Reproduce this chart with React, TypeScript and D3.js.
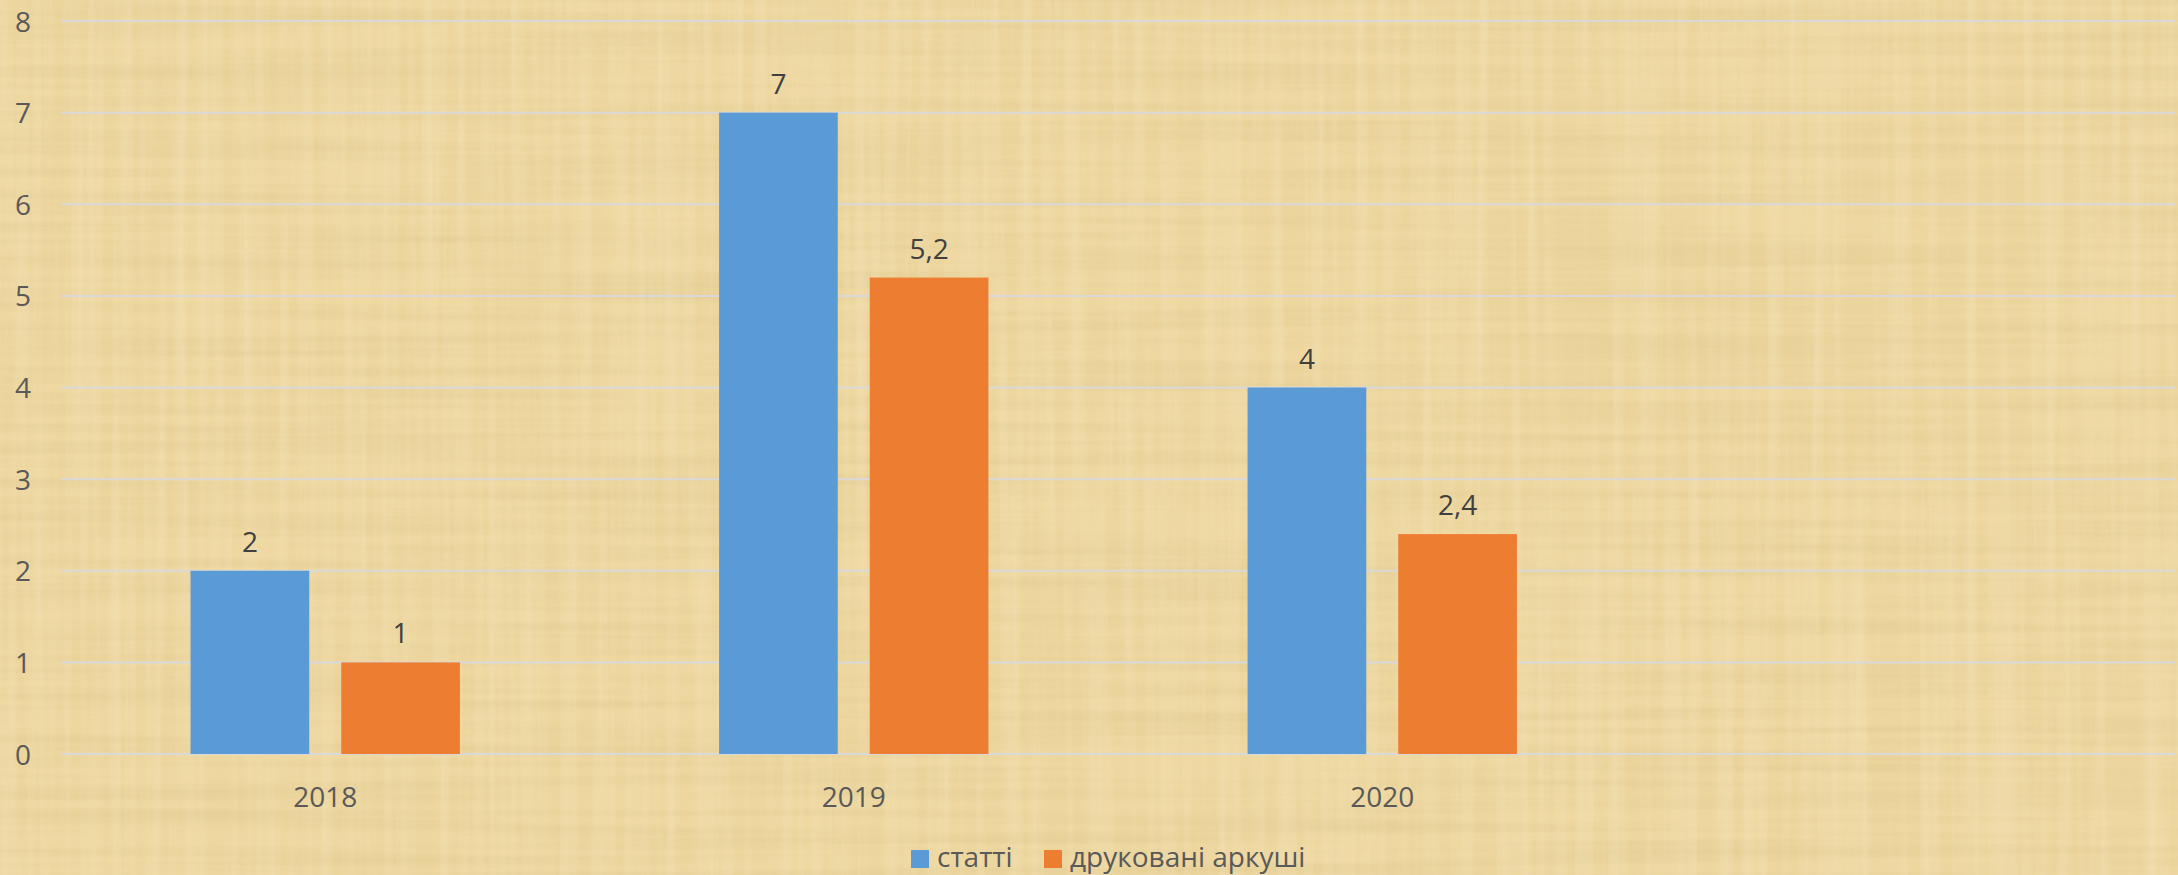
import React from "react";
import * as d3 from "d3";

const categories = ["2018", "2019", "2020", ""];
const seriesNames = ["статті", "друковані аркуші"];
const seriesColors = ["#5b9bd5", "#ed7d31"];
const statti = [2, 7, 4];
const arkushi = [1, 5.2, 2.4];
const yTicks = [0, 1, 2, 3, 4, 5, 6, 7, 8];

const W = 2178;
const H = 875;
const FONT = "'Open Sans', 'Noto Sans', sans-serif";

export default function App() {
  const x = d3.scaleBand<string>().domain(categories).range([61, 2175]).padding(0);
  const xs = d3
    .scaleBand<string>()
    .domain(seriesNames)
    .range([0, x.bandwidth()])
    .paddingInner(0.2123)
    .paddingOuter(0.86);
  const y = d3.scaleLinear().domain([0, 8]).range([754, 21]);
  const fmt = (v: number) => String(v).replace(".", ",");
  const values = [statti, arkushi];

  return (
    <svg
      width={W}
      height={H}
      style={{ position: "absolute", left: 0, top: 0, display: "block" }}
      fontFamily={FONT}
    >
      <defs>
        <filter id="fibV" x="0" y="0" width="100%" height="100%">
          <feTurbulence type="fractalNoise" baseFrequency="0.002 0.09" numOctaves="3" seed="3" />
          <feColorMatrix
            type="matrix"
            values="0 0 0 0 0.55  0 0 0 0 0.42  0 0 0 0 0.15  1.2 0 0 0 -0.45"
          />
        </filter>
        <filter id="fibH" x="0" y="0" width="100%" height="100%">
          <feTurbulence type="fractalNoise" baseFrequency="0.09 0.002" numOctaves="3" seed="7" />
          <feColorMatrix
            type="matrix"
            values="0 0 0 0 0.98  0 0 0 0 0.93  0 0 0 0 0.78  1.2 0 0 0 -0.45"
          />
        </filter>
        <filter id="blotch" x="0" y="0" width="100%" height="100%">
          <feTurbulence type="fractalNoise" baseFrequency="0.012 0.012" numOctaves="2" seed="11" />
          <feColorMatrix
            type="matrix"
            values="0 0 0 0 0.8  0 0 0 0 0.65  0 0 0 0 0.3  1.0 0 0 0 -0.45"
          />
        </filter>
      </defs>
      <rect x={0} y={0} width={W} height={H} fill="#eed7a0" />
      <rect x={0} y={0} width={W} height={H} filter="url(#blotch)" opacity={0.35} />
      <rect x={0} y={0} width={W} height={H} filter="url(#fibV)" opacity={0.28} />
      <rect x={0} y={0} width={W} height={H} filter="url(#fibH)" opacity={0.35} />

      {yTicks.map((t) => (
        <g key={t}>
          <line x1={61} x2={2176} y1={y(t)} y2={y(t)} stroke="#d9d9d9" strokeWidth={2} />
          <text x={31} y={y(t) + 10.5} textAnchor="end" fontSize={28} fill="#595959">
            {t}
          </text>
        </g>
      ))}

      {values.map((vals, si) =>
        vals.map((v, ci) => {
          const bx = (x(categories[ci]) ?? 0) + (xs(seriesNames[si]) ?? 0);
          return (
            <g key={`${si}-${ci}`}>
              <rect
                x={bx}
                y={y(v)}
                width={xs.bandwidth()}
                height={y(0) - y(v)}
                fill={seriesColors[si]}
              />
              <text
                x={bx + xs.bandwidth() / 2}
                y={y(v) - 19}
                textAnchor="middle"
                fontSize={28}
                fill="#404040"
              >
                {fmt(v)}
              </text>
            </g>
          );
        })
      )}

      {categories
        .filter((c) => c !== "")
        .map((c) => (
          <text
            key={c}
            x={(x(c) ?? 0) + x.bandwidth() / 2}
            y={807}
            textAnchor="middle"
            fontSize={28}
            fill="#595959"
          >
            {c}
          </text>
        ))}

      <g>
        <rect x={911} y={850} width={18} height={18} fill={seriesColors[0]} />
        <text x={937} y={867} fontSize={28} fill="#595959">
          {seriesNames[0]}
        </text>
        <rect x={1044} y={850} width={18} height={18} fill={seriesColors[1]} />
        <text x={1070} y={867} fontSize={28} fill="#595959">
          {seriesNames[1]}
        </text>
      </g>
    </svg>
  );
}
